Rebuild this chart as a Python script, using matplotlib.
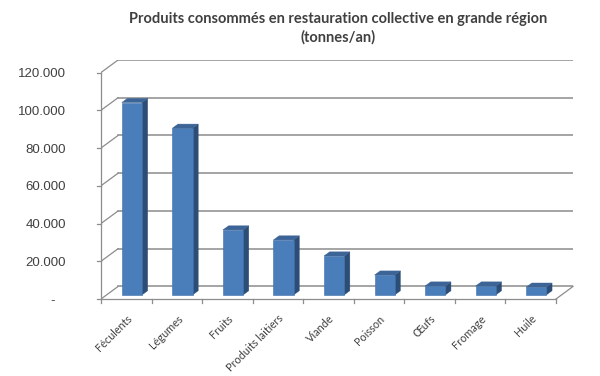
import numpy as np
from matplotlib import pyplot as plt
from matplotlib.patches import Polygon

categories = ["Féculents", "Légumes", "Fruits", "Produits laitiers", "Viande",
              "Poisson", "Œufs", "Fromage", "Huile"]
values = [101900, 88300, 34400, 29100, 20600, 10500, 4700, 4700, 4100]
yticks = [0, 20000, 40000, 60000, 80000, 100000, 120000]
ylabels = ["-   ", "20.000", "40.000", "60.000", "80.000", "100.000", "120.000"]

n = len(categories)
ymax = 120000
dx = 0.337      # depth of the chart, in category units
dy = 6630       # depth of the chart, in value units
f0, f1 = 0.33, 0.66   # bars sit between these depth fractions
bw = 0.40

grid_c = "#8c8c8c"
front_c = "#4a7ebb"
side_c = "#2c4d75"
top_c = "#3c6496"

fig = plt.figure(figsize=(6, 3.76), dpi=100)
ax = fig.add_axes([101/600, (376-299)/376, (573-101)/600, (299-60)/376])
ax.set_xlim(0, n + dx)
ax.set_ylim(0, ymax + dy)
for s in ax.spines.values():
    s.set_visible(False)

# back wall gridlines + depth lines to the front axis
for v in yticks:
    ax.plot([dx, n + dx], [v + dy, v + dy], color=grid_c, lw=1.1, zorder=1)
    ax.plot([0, dx], [v, v + dy], color=grid_c, lw=0.9, zorder=1)
    ax.plot([-0.08, 0], [v, v], color=grid_c, lw=0.9, clip_on=False)
# front axis and floor
ax.plot([0, 0], [0, ymax], color=grid_c, lw=0.9, clip_on=False)
ax.plot([0, n], [0, 0], color=grid_c, lw=0.9, clip_on=False)
ax.plot([n, n + dx], [0, dy], color=grid_c, lw=0.9, clip_on=False)
for i in range(n + 1):
    ax.plot([i, i], [0, -2200], color=grid_c, lw=0.9, clip_on=False)

# bars: front face via ax.bar, side and top faces as polygons
xs = np.arange(n) + 0.5 + dx * f0
ax.bar(xs, values, width=bw, bottom=f0 * dy, color=front_c,
       edgecolor="#3f6fa8", linewidth=0.4, zorder=3)
for x, v in zip(xs, values):
    x0, x1 = x - bw / 2, x + bw / 2
    ddx, ddy = dx * (f1 - f0), dy * (f1 - f0)
    yb, yt = f0 * dy, v + f0 * dy
    side = Polygon([(x1, yb), (x1, yt), (x1 + ddx, yt + ddy), (x1 + ddx, yb + ddy)],
                   closed=True, facecolor=side_c, edgecolor=side_c, lw=0.3, zorder=2)
    top = Polygon([(x0, yt), (x1, yt), (x1 + ddx, yt + ddy), (x0 + ddx, yt + ddy)],
                  closed=True, facecolor=top_c, edgecolor=top_c, lw=0.3, zorder=4)
    ax.add_patch(side)
    ax.add_patch(top)

ax.set_yticks(yticks)
ax.set_yticklabels(ylabels, fontfamily="Liberation Sans", fontsize=9.5, color="#404040")
ax.tick_params(axis="y", length=0, pad=25)

ax.set_xticks(np.arange(n) + 0.5)
ax.set_xticklabels(categories, rotation=45, ha="right", rotation_mode="anchor",
                   fontfamily="Lato", fontsize=7.8, color="#404040")
ax.tick_params(axis="x", length=0, pad=10)

fig.text(0.563, 0.968, "Produits consommés en restauration collective en grande région\n(tonnes/an)",
         ha="center", va="top", fontfamily="Lato", fontweight="bold", fontsize=10.5,
         color="#404040", linespacing=1.35)

fig.savefig("out.png", dpi=100)
